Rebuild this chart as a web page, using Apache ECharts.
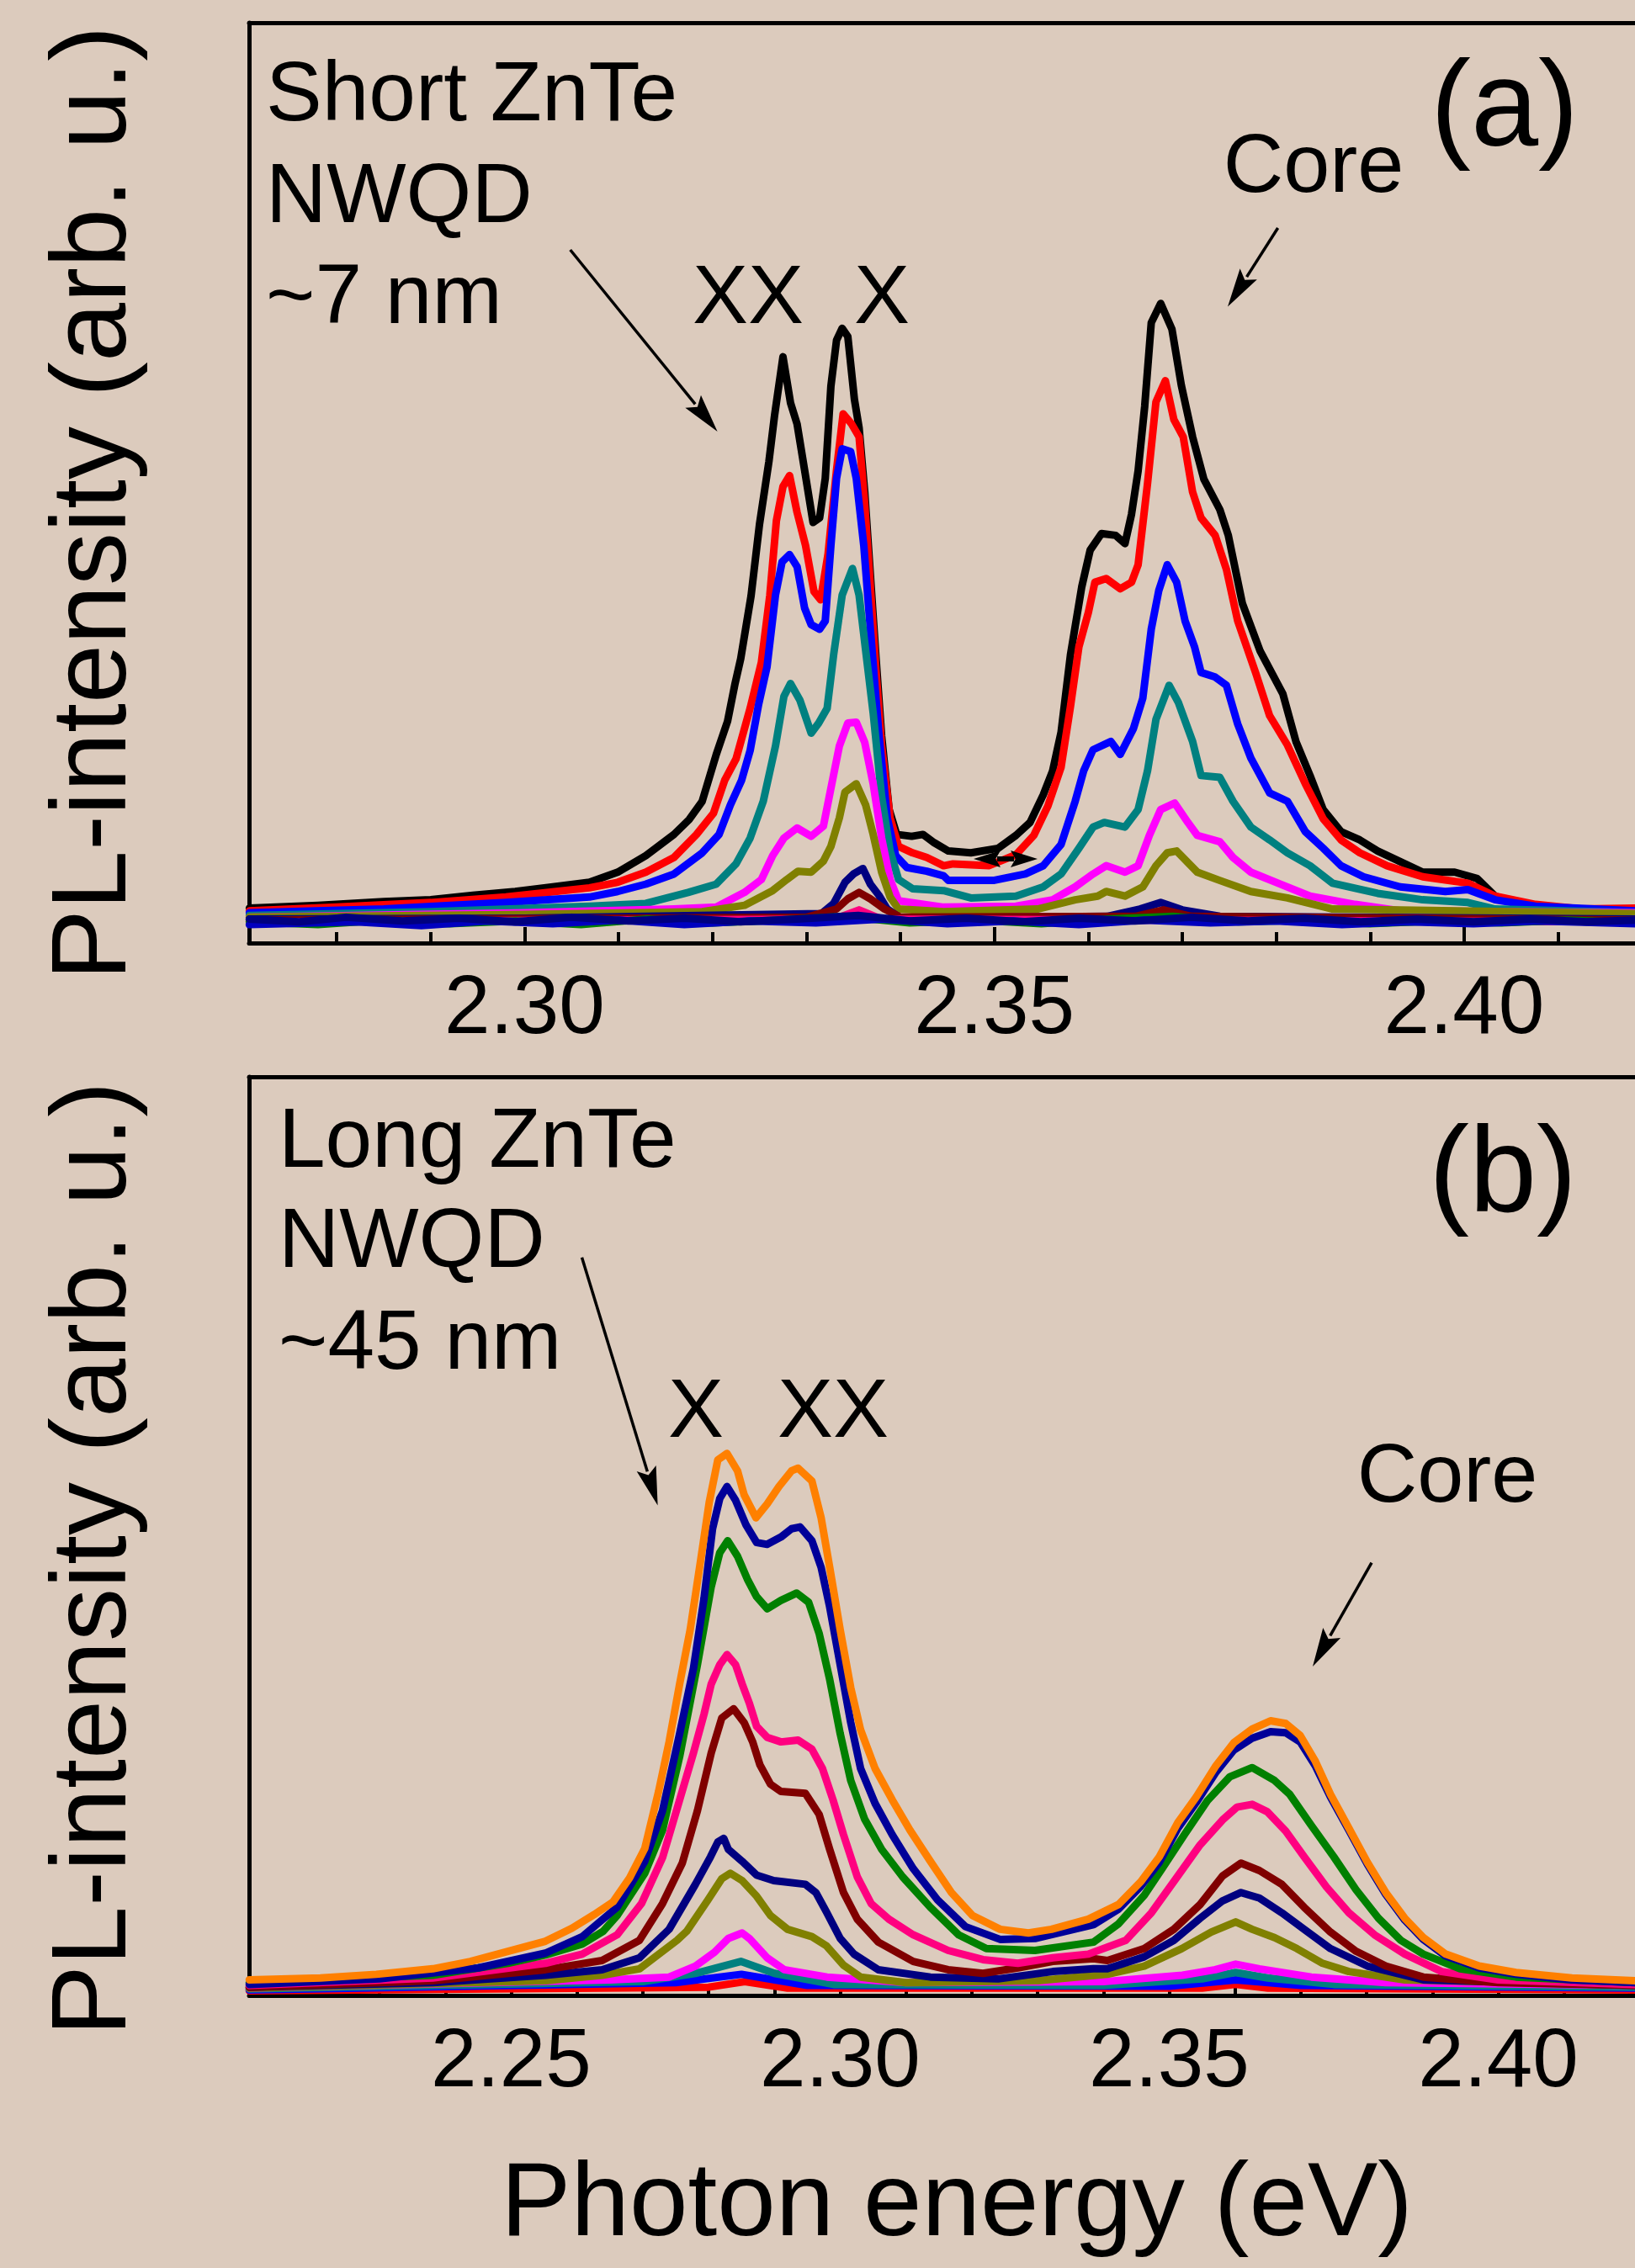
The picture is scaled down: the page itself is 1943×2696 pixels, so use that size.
<!DOCTYPE html>
<html><head><meta charset="utf-8">
<script src="https://cdn.jsdelivr.net/npm/echarts@6/dist/echarts.min.js"></script>
<style>html,body{margin:0;padding:0;background:#dccbbd;}#c{width:1943px;height:2696px;}</style>
</head><body><div id="c"></div>
<script>
// ---------- Panel (a): Short ZnTe NWQD (~7 nm) ----------
const aTickLabels = [2.30, 2.35, 2.40];
const aMinorTicks = [2.28, 2.29, 2.31, 2.32, 2.33, 2.34, 2.36, 2.37, 2.38, 2.39, 2.41];
const aBlack = [[2.2707,3.8],[2.278,4.1],[2.285,4.5],[2.290,4.7],[2.2945,5.2],[2.299,5.6],[2.303,6.1],[2.3069,6.6],[2.3099,7.7],[2.3129,9.5],[2.3159,11.8],[2.3175,13.4],[2.3189,15.4],[2.3204,20.5],[2.3216,24.1],[2.3224,28.2],[2.3230,30.9],[2.3241,37.7],[2.3250,45.5],[2.3260,52.3],[2.3266,57.3],[2.3275,63.7],[2.3283,58.7],[2.3290,56.4],[2.3298,51.4],[2.3307,45.7],[2.3314,46.2],[2.3320,50.5],[2.3326,60.5],[2.3332,65.5],[2.3338,66.8],[2.3344,65.9],[2.3351,59.1],[2.3356,56.0],[2.3362,49.0],[2.3368,40.0],[2.3374,31.0],[2.3380,22.5],[2.3388,14.5],[2.3396,11.8],[2.3412,11.6],[2.3424,11.8],[2.3436,10.9],[2.3451,10.0],[2.3475,9.8],[2.3504,10.3],[2.3523,11.7],[2.3538,13.1],[2.3552,16.1],[2.3562,18.7],[2.3571,22.9],[2.3581,31.3],[2.3593,38.7],[2.3602,42.7],[2.3614,44.5],[2.3629,44.3],[2.3639,43.4],[2.3646,46.6],[2.3653,51.3],[2.3660,58.3],[2.3667,67.4],[2.3677,69.5],[2.3689,66.7],[2.3699,60.6],[2.3711,55.0],[2.3723,50.4],[2.3740,47.1],[2.3749,44.3],[2.3764,36.9],[2.3783,31.7],[2.3807,27.1],[2.3821,21.9],[2.3836,18.2],[2.3850,14.5],[2.3869,12.1],[2.3889,11.2],[2.3908,10.0],[2.3937,8.6],[2.3956,7.7],[2.3990,7.7],[2.4014,7.0],[2.4033,5.1],[2.4062,4.2],[2.4100,3.7],[2.4182,3.5]];
const aRed = [[2.2707,3.5],[2.280,3.9],[2.290,4.4],[2.298,5.0],[2.3069,6.0],[2.3099,6.6],[2.3129,7.7],[2.3159,9.3],[2.3183,11.8],[2.3201,14.1],[2.3213,17.7],[2.3225,20.0],[2.3240,25.5],[2.3252,30.5],[2.3261,37.8],[2.3268,45.9],[2.3275,49.6],[2.3282,50.8],[2.3290,46.8],[2.3299,43.2],[2.3308,38.2],[2.3315,37.3],[2.3323,42.3],[2.3332,51.4],[2.3339,57.5],[2.3348,56.4],[2.3356,55.0],[2.3362,47.7],[2.3368,38.7],[2.3374,29.6],[2.3380,21.4],[2.3389,13.6],[2.3398,10.5],[2.3413,9.8],[2.3428,9.3],[2.3446,8.4],[2.3456,8.6],[2.3494,8.4],[2.3523,9.6],[2.3542,11.7],[2.3557,14.9],[2.3571,19.1],[2.3581,25.7],[2.3590,32.2],[2.3600,35.9],[2.3607,39.2],[2.3619,39.6],[2.3634,38.5],[2.3646,39.2],[2.3653,41.1],[2.3663,49.9],[2.3672,58.8],[2.3682,61.1],[2.3691,56.9],[2.3701,55.0],[2.3711,49.0],[2.3720,46.2],[2.3735,44.3],[2.3747,40.6],[2.3759,35.0],[2.3778,29.4],[2.3793,24.7],[2.3812,21.5],[2.3831,17.3],[2.3850,13.5],[2.3869,11.2],[2.3889,9.8],[2.3918,8.4],[2.3956,7.2],[2.4004,6.5],[2.4033,5.1],[2.4076,4.2],[2.4124,3.7],[2.4182,3.8]];
const aBlue = [[2.2707,3.3],[2.285,3.7],[2.298,4.4],[2.3069,5.0],[2.3099,5.6],[2.3129,6.4],[2.3159,7.5],[2.3189,9.8],[2.3207,11.8],[2.3219,15.0],[2.3231,17.7],[2.3240,20.9],[2.3249,25.9],[2.3258,30.0],[2.3267,37.8],[2.3274,41.4],[2.3282,42.2],[2.3290,40.9],[2.3298,36.4],[2.3305,34.6],[2.3314,34.1],[2.3320,35.0],[2.3326,43.2],[2.3332,50.5],[2.3338,53.7],[2.3347,53.4],[2.3353,50.5],[2.3361,43.2],[2.3368,34.1],[2.3377,22.8],[2.3386,13.6],[2.3395,9.5],[2.3407,8.2],[2.3428,7.8],[2.3446,7.3],[2.3451,6.8],[2.3499,6.8],[2.3533,7.5],[2.3552,8.4],[2.3571,10.7],[2.3586,15.4],[2.3595,18.7],[2.3605,21.0],[2.3624,21.9],[2.3634,20.5],[2.3648,23.3],[2.3658,26.6],[2.3667,34.1],[2.3675,38.3],[2.3684,41.1],[2.3694,39.2],[2.3703,35.0],[2.3713,32.2],[2.3720,29.4],[2.3735,28.9],[2.3747,28.0],[2.3759,23.8],[2.3773,20.1],[2.3793,16.3],[2.3812,15.4],[2.3831,12.1],[2.3850,10.3],[2.3869,8.4],[2.3893,7.2],[2.3932,6.1],[2.3980,5.6],[2.4004,5.8],[2.4033,4.7],[2.4076,4.0],[2.4182,3.5]];
const aTeal = [[2.2707,3.0],[2.290,3.4],[2.3069,4.0],[2.3129,4.3],[2.3174,5.5],[2.3204,6.4],[2.3225,8.6],[2.3240,11.4],[2.3254,15.4],[2.3267,21.4],[2.3276,26.8],[2.3283,28.2],[2.3293,26.4],[2.3305,22.8],[2.3313,23.9],[2.3322,25.5],[2.3329,31.4],[2.3338,37.8],[2.3349,40.7],[2.3356,37.8],[2.3363,31.8],[2.3371,25.0],[2.3380,15.9],[2.3389,10.0],[2.3398,6.9],[2.3413,5.9],[2.3446,5.7],[2.3475,4.9],[2.3523,5.1],[2.3552,6.1],[2.3571,7.5],[2.3590,10.3],[2.3605,12.6],[2.3617,13.1],[2.3639,12.6],[2.3653,14.5],[2.3663,18.7],[2.3672,24.3],[2.3686,28.0],[2.3696,26.1],[2.3711,21.9],[2.3720,18.2],[2.3740,18.0],[2.3754,15.4],[2.3773,12.6],[2.3793,11.2],[2.3812,9.8],[2.3836,8.4],[2.3860,6.5],[2.3908,5.4],[2.3956,4.7],[2.4004,4.4],[2.4033,3.7],[2.4182,3.3]];
const aMagenta = [[2.2707,2.8],[2.300,3.3],[2.3159,3.7],[2.3204,3.9],[2.3234,5.5],[2.3252,6.9],[2.3264,9.5],[2.3276,11.4],[2.3290,12.5],[2.3305,11.6],[2.3318,12.7],[2.3326,16.8],[2.3335,21.4],[2.3344,23.9],[2.3353,24.0],[2.3362,21.8],[2.3371,17.3],[2.3380,11.4],[2.3389,6.9],[2.3398,4.6],[2.3446,3.9],[2.3523,4.0],[2.3562,4.7],[2.3586,6.1],[2.3605,7.5],[2.3619,8.4],[2.3639,7.7],[2.3653,8.4],[2.3665,11.7],[2.3677,14.5],[2.3692,15.2],[2.3706,13.1],[2.3716,11.7],[2.3740,11.0],[2.3754,9.3],[2.3773,7.7],[2.3802,6.5],[2.3836,5.1],[2.3884,4.2],[2.3932,3.5],[2.4182,3.3]];
const aOlive = [[2.2707,2.8],[2.300,3.1],[2.3189,3.4],[2.3234,4.1],[2.3264,5.7],[2.3279,6.9],[2.3291,7.8],[2.3305,7.7],[2.3318,8.9],[2.3326,10.5],[2.3335,13.6],[2.3341,16.4],[2.3353,17.3],[2.3363,15.0],[2.3371,11.8],[2.3380,7.7],[2.3389,5.0],[2.3398,3.7],[2.3446,3.4],[2.3546,3.7],[2.3586,4.7],[2.3610,5.1],[2.3619,5.6],[2.3639,5.1],[2.3658,6.1],[2.3672,8.4],[2.3684,9.8],[2.3694,10.0],[2.3716,7.7],[2.3740,6.8],[2.3773,5.6],[2.3812,4.9],[2.3860,3.7],[2.4182,3.2]];
const aNavy = [[2.2707,2.6],[2.300,2.7],[2.3316,3.2],[2.3329,4.3],[2.3341,6.6],[2.3350,7.5],[2.3360,8.1],[2.3368,6.4],[2.3377,5.2],[2.3386,3.7],[2.340,2.7],[2.362,2.9],[2.3655,3.7],[2.3677,4.4],[2.370,3.6],[2.374,2.9],[2.4182,2.6]];
const aDarkRed = [[2.2707,2.5],[2.330,2.8],[2.3332,3.7],[2.3344,4.8],[2.3356,5.5],[2.3368,4.8],[2.3383,3.7],[2.340,2.8],[2.365,2.9],[2.368,3.6],[2.371,2.9],[2.4182,2.5]];
const aPink = [[2.2707,2.3],[2.333,2.6],[2.3356,3.6],[2.338,2.6],[2.4182,2.3]];
const aFlatGreen = [[2.2707,2.3],[2.278,2.0],[2.285,2.5],[2.292,2.1],[2.299,2.4],[2.306,2.0],[2.313,2.6],[2.320,2.2],[2.327,2.5],[2.334,2.9],[2.341,2.2],[2.348,2.5],[2.355,2.1],[2.362,2.6],[2.369,2.9],[2.376,2.3],[2.383,2.5],[2.390,2.1],[2.397,2.4],[2.404,2.2],[2.411,2.5],[2.4182,2.2]];
const aFlatBlue = [[2.2707,2.0],[2.282,2.3],[2.289,1.9],[2.296,2.4],[2.303,2.1],[2.310,2.5],[2.317,2.0],[2.324,2.4],[2.331,2.2],[2.338,2.6],[2.345,2.1],[2.352,2.4],[2.359,2.0],[2.366,2.5],[2.373,2.2],[2.380,2.4],[2.387,2.0],[2.394,2.3],[2.401,2.1],[2.408,2.4],[2.4182,2.1]];
const aFlatNavy = [[2.2707,2.6],[2.276,2.3],[2.281,2.8],[2.287,2.4],[2.293,2.7],[2.299,2.3],[2.305,2.8],[2.311,2.4],[2.317,2.7],[2.323,2.3],[2.329,2.6],[2.3355,3.0],[2.341,2.4],[2.347,2.7],[2.353,2.3],[2.359,2.7],[2.365,2.4],[2.371,2.8],[2.377,2.4],[2.383,2.7],[2.389,2.3],[2.395,2.6],[2.401,2.3],[2.407,2.6],[2.413,2.3],[2.4182,2.5]];

// ---------- Panel (b): Long ZnTe NWQD (~45 nm) ----------
const bTickLabels = [2.25, 2.30, 2.35, 2.40];
const bTicks = [2.22, 2.23, 2.24, 2.25, 2.26, 2.27, 2.28, 2.29, 2.30, 2.31, 2.32, 2.33, 2.34, 2.35, 2.36, 2.37, 2.38, 2.39, 2.40, 2.41, 2.42];
const bOrange = [[2.2102,1.7],[2.2210,1.9],[2.2295,2.3],[2.2381,2.9],[2.2438,3.7],[2.2495,4.8],[2.2552,5.9],[2.2592,7.3],[2.2626,8.8],[2.2655,10.2],[2.2680,12.8],[2.2703,16.0],[2.2724,22.2],[2.2740,27.6],[2.2756,33.9],[2.2772,39.8],[2.2788,47.4],[2.2801,53.7],[2.2814,58.3],[2.2828,59.0],[2.2844,57.1],[2.2854,54.5],[2.2872,52.0],[2.2889,53.5],[2.2907,55.4],[2.2926,57.1],[2.2936,57.4],[2.2957,56.0],[2.2971,52.0],[2.2984,46.6],[2.3000,39.8],[2.3016,33.5],[2.3031,28.9],[2.3053,24.7],[2.3079,21.3],[2.3106,18.0],[2.3137,14.6],[2.3169,11.2],[2.3201,8.7],[2.3243,7.2],[2.3286,6.8],[2.3321,7.2],[2.3377,8.3],[2.3423,9.9],[2.3457,12.4],[2.3485,15.1],[2.3513,18.8],[2.3541,21.6],[2.3570,24.9],[2.3598,27.5],[2.3626,29.0],[2.3654,29.9],[2.3677,29.6],[2.3699,28.3],[2.3722,25.5],[2.3745,21.9],[2.3773,18.2],[2.3801,14.5],[2.3829,11.2],[2.3858,8.4],[2.3886,6.3],[2.3920,4.5],[2.3971,3.2],[2.4027,2.5],[2.4112,1.9],[2.4208,1.6]];
const bNavyHigh = [[2.2102,1.2],[2.2300,1.8],[2.2450,3.0],[2.2552,4.6],[2.2608,6.4],[2.2661,9.6],[2.2703,14.6],[2.2730,20.1],[2.2756,28.5],[2.2777,35.6],[2.2793,43.2],[2.2806,50.8],[2.2817,54.1],[2.2828,55.4],[2.2841,53.9],[2.2857,51.2],[2.2873,49.3],[2.2889,49.1],[2.2910,49.9],[2.2926,50.8],[2.2939,51.0],[2.2957,49.5],[2.2971,46.6],[2.2984,42.3],[2.3000,36.0],[2.3016,29.7],[2.3031,24.7],[2.3053,20.9],[2.3079,17.5],[2.3111,13.8],[2.3148,10.4],[2.3190,7.5],[2.3243,6.1],[2.3296,6.2],[2.3385,7.7],[2.3423,9.4],[2.3457,11.9],[2.3485,14.5],[2.3513,18.2],[2.3541,21.0],[2.3570,24.2],[2.3598,26.7],[2.3626,28.0],[2.3654,28.7],[2.3677,28.6],[2.3699,27.6],[2.3722,25.0],[2.3745,21.6],[2.3773,18.0],[2.3801,14.3],[2.3829,11.0],[2.3858,8.2],[2.3886,6.1],[2.3920,4.3],[2.3971,3.0],[2.4027,2.3],[2.4112,1.7],[2.4208,1.4]];
const bGreen = [[2.2102,1.4],[2.2381,2.2],[2.2495,3.5],[2.2552,4.4],[2.2608,5.6],[2.2640,7.0],[2.2661,8.7],[2.2703,13.3],[2.2730,18.0],[2.2756,26.0],[2.2783,36.0],[2.2804,44.5],[2.2817,48.2],[2.2829,49.5],[2.2844,47.8],[2.2859,45.3],[2.2873,43.4],[2.2889,42.1],[2.2910,43.0],[2.2934,43.8],[2.2952,42.8],[2.2968,39.4],[2.2984,34.4],[2.3000,28.5],[2.3016,23.4],[2.3037,19.2],[2.3063,15.9],[2.3095,12.9],[2.3137,9.6],[2.3180,6.6],[2.3222,5.1],[2.3296,4.9],[2.3385,5.8],[2.3423,7.8],[2.3462,10.9],[2.3490,13.9],[2.3524,17.6],[2.3558,21.2],[2.3592,23.8],[2.3626,24.8],[2.3660,23.4],[2.3683,21.9],[2.3716,18.5],[2.3750,15.1],[2.3784,11.5],[2.3818,8.4],[2.3852,6.0],[2.3886,4.5],[2.3942,2.9],[2.4027,2.0],[2.4208,1.4]];
const bPink = [[2.2102,1.1],[2.2381,1.9],[2.2552,3.5],[2.2608,4.5],[2.2661,6.6],[2.2698,10.0],[2.2730,15.0],[2.2756,21.3],[2.2777,26.4],[2.2793,30.6],[2.2804,33.9],[2.2817,36.0],[2.2828,37.1],[2.2841,36.0],[2.2851,33.9],[2.2862,31.8],[2.2873,29.3],[2.2889,28.1],[2.2910,27.6],[2.2936,27.8],[2.2957,26.8],[2.2973,24.7],[2.2989,21.3],[2.3005,17.5],[2.3026,12.9],[2.3047,10.0],[2.3074,8.3],[2.3111,6.6],[2.3164,4.9],[2.3217,3.9],[2.3270,3.5],[2.3323,4.1],[2.3377,4.5],[2.3434,6.0],[2.3473,9.0],[2.3507,12.4],[2.3547,16.4],[2.3581,19.1],[2.3603,20.5],[2.3626,20.8],[2.3649,20.0],[2.3677,17.9],[2.3705,15.1],[2.3739,11.8],[2.3773,9.0],[2.3812,6.6],[2.3858,4.5],[2.3914,2.6],[2.4000,1.7],[2.4208,1.2]];
const bDarkRed = [[2.2102,0.9],[2.2381,1.6],[2.2552,2.8],[2.2638,3.8],[2.2695,6.0],[2.2730,10.0],[2.2760,14.4],[2.2783,20.1],[2.2804,26.4],[2.2820,30.2],[2.2838,31.2],[2.2854,29.7],[2.2867,27.6],[2.2878,25.1],[2.2894,23.0],[2.2910,22.2],[2.2947,22.0],[2.2968,19.7],[2.2984,15.9],[2.3005,11.2],[2.3026,8.3],[2.3058,5.8],[2.3111,3.7],[2.3164,2.8],[2.3217,2.4],[2.3270,3.0],[2.3323,3.7],[2.3385,4.0],[2.3406,3.8],[2.3462,5.1],[2.3507,7.2],[2.3547,9.9],[2.3581,13.0],[2.3609,14.4],[2.3637,13.6],[2.3671,12.1],[2.3705,9.6],[2.3745,6.9],[2.3784,4.8],[2.3829,3.2],[2.3886,2.0],[2.4000,1.4],[2.4208,1.1]];
const bNavyLow = [[2.2102,0.9],[2.2381,1.4],[2.2552,2.2],[2.2638,2.8],[2.2695,4.1],[2.2740,7.2],[2.2780,12.1],[2.2803,15.1],[2.2814,16.7],[2.2823,17.1],[2.2830,15.9],[2.2851,14.6],[2.2873,13.1],[2.2899,12.5],[2.2947,12.1],[2.2963,11.2],[2.2979,9.1],[2.3000,6.2],[2.3021,4.5],[2.3058,2.8],[2.3137,2.0],[2.3240,1.8],[2.3323,2.6],[2.3385,2.9],[2.3406,2.9],[2.3462,4.2],[2.3507,6.0],[2.3547,8.4],[2.3581,10.3],[2.3609,11.2],[2.3637,10.6],[2.3671,9.0],[2.3705,7.2],[2.3745,5.1],[2.3801,3.2],[2.3886,1.7],[2.4208,1.1]];
const bOlive = [[2.2102,0.8],[2.2552,1.6],[2.2638,2.2],[2.2695,2.9],[2.2752,6.0],[2.2767,7.0],[2.2799,10.4],[2.2820,12.7],[2.2833,13.3],[2.2851,12.5],[2.2873,10.8],[2.2894,8.7],[2.2920,7.2],[2.2957,6.4],[2.2979,5.4],[2.3005,3.3],[2.3031,2.0],[2.3100,1.4],[2.3300,1.6],[2.3406,2.3],[2.3462,3.2],[2.3519,5.1],[2.3564,6.9],[2.3601,8.0],[2.3626,7.2],[2.3660,6.3],[2.3694,5.1],[2.3733,3.5],[2.3773,2.6],[2.3858,1.7],[2.4208,1.1]];
const bMagenta = [[2.2102,0.8],[2.2650,1.7],[2.2740,2.0],[2.2780,3.2],[2.2809,4.7],[2.2830,6.2],[2.2851,6.8],[2.2862,6.2],[2.2889,4.1],[2.2915,2.8],[2.2980,2.0],[2.3100,1.4],[2.3400,1.5],[2.3520,2.2],[2.3570,2.8],[2.3601,3.4],[2.3637,2.9],[2.3716,2.0],[2.3829,1.4],[2.4208,1.1]];
const bTeal = [[2.2102,0.7],[2.2700,1.5],[2.2780,2.4],[2.2849,3.7],[2.2900,2.4],[2.2990,1.2],[2.3400,1.1],[2.3550,1.8],[2.3601,2.5],[2.3650,1.9],[2.3750,1.2],[2.4208,0.9]];
const bBlue = [[2.2102,0.6],[2.2750,1.4],[2.2850,2.3],[2.2950,1.1],[2.3500,1.0],[2.3601,1.7],[2.3700,1.1],[2.4208,0.8]];
const bRed = [[2.2102,0.5],[2.2800,0.9],[2.2855,1.5],[2.2920,0.8],[2.3550,0.8],[2.3601,1.2],[2.3650,0.8],[2.4208,0.6]];

// ---------- layout / style ----------
const FONT = "'Liberation Sans', Arial, Helvetica, sans-serif";
const A_MIN = 2.27067, A_MAX = 2.41819;
const B_MIN = 2.21017, B_MAX = 2.42078;
const LW = 9;

function line(data, color, panel) {
  return {
    type: 'line', data: data, xAxisIndex: panel === 0 ? 0 : 3, yAxisIndex: panel,
    showSymbol: false, symbol: 'none', smooth: false, animation: false, silent: true,
    lineStyle: { color: color, width: LW, join: 'round', cap: 'round' }, itemStyle: { color: color }
  };
}
const frame = { show: true, onZero: false, lineStyle: { color: '#000', width: 5 } };
const tickStyle = { color: '#000', width: 4 };
const labelStyle = { fontSize: 98, fontFamily: FONT, color: '#000', margin: 31, formatter: v => v.toFixed(2) };

function txt(text, x, baseline, size, align, rot) {
  const el = {
    type: 'text', z: 100,
    style: { text: text, x: 0, y: 0, font: size + 'px ' + FONT, fill: '#000', textAlign: align || 'left', textVerticalAlign: 'middle' }
  };
  if (rot) { el.x = x; el.y = baseline; el.rotation = rot; }
  else { el.x = x; el.y = baseline - 0.3465 * size; }
  return el;
}
function arrow(x1, y1, x2, y2, L, H, lw) {
  const dx = x2 - x1, dy = y2 - y1, d = Math.hypot(dx, dy), ux = dx / d, uy = dy / d;
  const bx = x2 - ux * L, by = y2 - uy * L;
  return [
    { type: 'line', z: 100, shape: { x1: x1, y1: y1, x2: bx + ux * 4, y2: by + uy * 4 }, style: { stroke: '#000', lineWidth: lw || 3.5 } },
    { type: 'polygon', z: 100, shape: { points: [[x2, y2], [bx - uy * H, by + ux * H], [bx + ux * L * 0.18, by + uy * L * 0.18], [bx + uy * H, by - ux * H]] }, style: { fill: '#000' } }
  ];
}

const graphics = [].concat(
  [txt('Short ZnTe', 316, 150, 100), txt('NWQD', 316, 271, 100), txt('~7 nm', 316, 391, 100),
   txt('XX', 889, 391, 99, 'center'), txt('X', 1048, 391, 99, 'center'),
   txt('Core', 1561, 235, 99, 'center'), txt('(a)', 1788, 183, 144, 'center'),
   txt('Long ZnTe', 331, 1394, 100), txt('NWQD', 331, 1513, 100), txt('~45 nm', 331, 1634, 100),
   txt('X', 827, 1715, 99, 'center'), txt('XX', 990, 1715, 99, 'center'),
   txt('Core', 1720, 1792, 99, 'center'), txt('(b)', 1786, 1450, 144, 'center'),
   txt('PL-intensity (arb. u.)', 114, 598, 126, 'center', Math.PI / 2),
   txt('PL-intensity (arb. u.)', 114, 1853, 126, 'center', Math.PI / 2),
   txt('Photon energy (eV)', 1137, 2666, 125, 'center')],
  arrow(677.7, 297, 852.6, 513, 46, 12),
  arrow(1518.6, 271, 1459, 364.5, 46, 12),
  arrow(691.5, 1494.7, 781.6, 1789.5, 46, 12),
  arrow(1630, 1857.7, 1560, 1981, 46, 12),
  arrow(1195, 1021, 1157, 1021, 32, 10, 6),
  arrow(1195, 1021, 1233, 1021, 32, 10, 6)
);

const option = {
  backgroundColor: '#dccbbd',
  animation: false,
  grid: [
    { left: 296, top: 27, width: 1647, height: 1094 },
    { left: 296, top: 1280, width: 1647, height: 1092 }
  ],
  xAxis: [
    { gridIndex: 0, type: 'value', position: 'bottom', min: A_MIN, max: A_MAX, axisLine: frame,
      axisTick: { show: true, inside: true, length: 19, lineStyle: tickStyle, customValues: aTickLabels },
      axisLabel: Object.assign({ customValues: aTickLabels }, labelStyle), splitLine: { show: false } },
    { gridIndex: 0, type: 'value', position: 'bottom', min: A_MIN, max: A_MAX, axisLine: { show: false },
      axisTick: { show: true, inside: true, length: 13, lineStyle: tickStyle, customValues: aMinorTicks },
      axisLabel: { show: false }, splitLine: { show: false } },
    { gridIndex: 0, type: 'value', position: 'top', min: A_MIN, max: A_MAX, axisLine: frame,
      axisTick: { show: false }, axisLabel: { show: false }, splitLine: { show: false } },
    { gridIndex: 1, type: 'value', position: 'bottom', min: B_MIN, max: B_MAX, axisLine: frame,
      axisTick: { show: true, inside: true, length: 12, lineStyle: tickStyle, customValues: bTicks },
      axisLabel: Object.assign({ customValues: bTickLabels }, labelStyle, { margin: 32 }), splitLine: { show: false } },
    { gridIndex: 1, type: 'value', position: 'top', min: B_MIN, max: B_MAX, axisLine: frame,
      axisTick: { show: false }, axisLabel: { show: false }, splitLine: { show: false } }
  ],
  yAxis: [
    { gridIndex: 0, type: 'value', min: 0, max: 100, position: 'left', axisLine: frame,
      axisTick: { show: false }, axisLabel: { show: false }, splitLine: { show: false } },
    { gridIndex: 1, type: 'value', min: 0, max: 100, position: 'left', axisLine: frame,
      axisTick: { show: false }, axisLabel: { show: false }, splitLine: { show: false } }
  ],
  series: [
    line(aBlack, '#000000', 0), line(aRed, '#ff0000', 0), line(aBlue, '#0000ff', 0),
    line(aTeal, '#008080', 0), line(aMagenta, '#ff00ff', 0), line(aOlive, '#808000', 0),
    line(aNavy, '#000080', 0), line(aDarkRed, '#800000', 0), line(aPink, '#ff0080', 0),
    line(aFlatGreen, '#008000', 0), line(aFlatBlue, '#0000c0', 0), line(aFlatNavy, '#000080', 0),
    line(bRed, '#ff0000', 1), line(bBlue, '#0000ff', 1), line(bTeal, '#008080', 1),
    line(bMagenta, '#ff00ff', 1), line(bOlive, '#808000', 1), line(bNavyLow, '#000080', 1),
    line(bDarkRed, '#800000', 1), line(bPink, '#ff0080', 1), line(bGreen, '#008000', 1),
    line(bNavyHigh, '#000099', 1), line(bOrange, '#ff8000', 1)
  ],
  graphic: graphics
};
const chart = echarts.init(document.getElementById('c'), null, { renderer: 'canvas', width: 1943, height: 2696 });
chart.setOption(option);
</script></body></html>
